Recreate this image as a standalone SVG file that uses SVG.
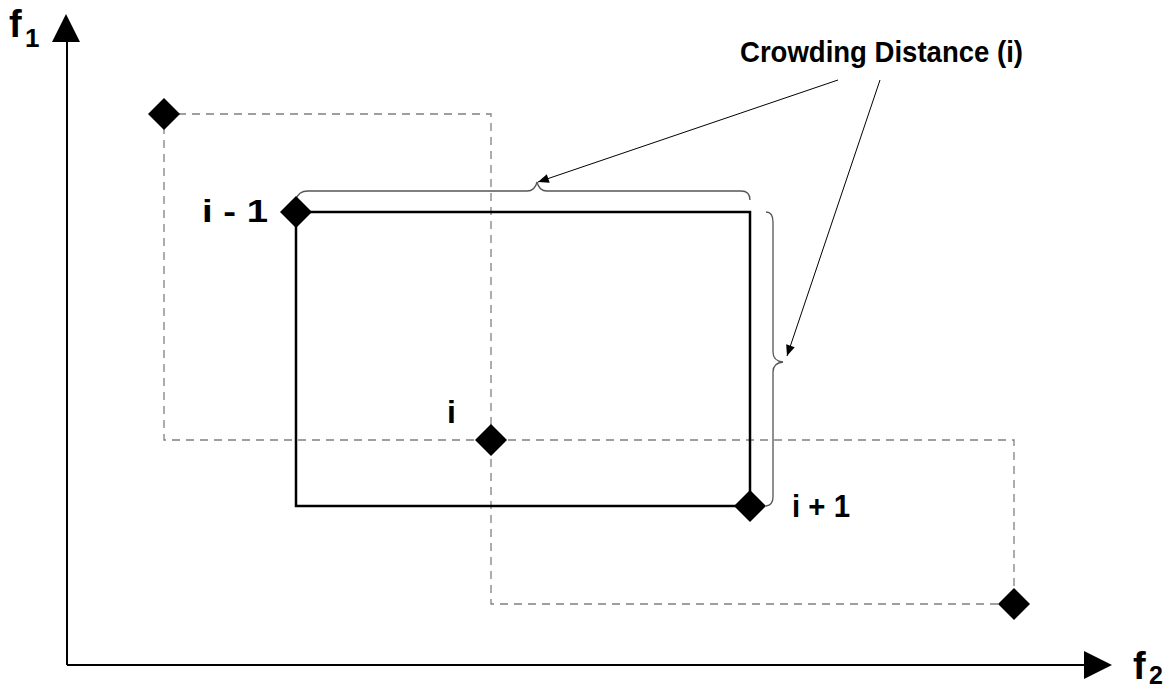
<svg xmlns="http://www.w3.org/2000/svg" width="1172" height="691" viewBox="0 0 1172 691">
<defs>
<marker id="ah" viewBox="0 0 12 10" refX="12" refY="5" markerWidth="13" markerHeight="9" markerUnits="userSpaceOnUse" orient="auto"><path d="M0,0 L12,5 L0,10 z" fill="#000"/></marker>
</defs>
<style>
.lbl{font-family:"Liberation Sans",Arial,sans-serif;font-weight:bold;fill:#000}
.dash{fill:none;stroke:#808080;stroke-width:1.3;stroke-dasharray:8,6}
.dia{fill:#000}
.brace{fill:none;stroke:#555;stroke-width:1.3}
</style>
<rect width="1172" height="691" fill="#fff"/>
<g id="axes">
<line x1="67" y1="40" x2="67" y2="665" stroke="#000" stroke-width="2"/>
<polygon points="66,14 52,42 80,42" fill="#000"/>
<line x1="67" y1="665" x2="1086" y2="665" stroke="#000" stroke-width="2"/>
<polygon points="1112,665 1084,651 1084,679" fill="#000"/>
<text class="lbl" x="9" y="37" font-size="38">f<tspan x="25" y="47" font-size="26">1</tspan></text>
<text class="lbl" x="1133" y="679" font-size="38">f<tspan x="1149" y="684" font-size="25">2</tspan></text>
</g>
<g id="connectors">
<path class="dash" d="M164,114 H491 V604 H1014 V440 H164 V114"/>
<rect x="296" y="212" width="454" height="294" fill="none" stroke="#000" stroke-width="2.5"/>
<path class="brace" d="M296,200 Q298,191 308,191 H527 Q535,191 537,182 Q539,191 547,191 H741 Q750,191 750,200"/>
<path class="brace" d="M766,212 Q773,212 773,222 V352 Q773,361 783,362 Q773,363 773,372 V497 Q773,505 766,506"/>
<line x1="838" y1="80" x2="538" y2="182" stroke="#000" stroke-width="1" marker-end="url(#ah)"/>
<line x1="880" y1="80" x2="787" y2="356" stroke="#000" stroke-width="1" marker-end="url(#ah)"/>
</g>
<g id="n1"><polygon class="dia" points="164,98 180,114 164,130 148,114"/></g>
<g id="n2"><polygon class="dia" points="296,196 312,212 296,228 280,212"/><text class="lbl" x="202" y="222" font-size="32" textLength="66" lengthAdjust="spacingAndGlyphs">i - 1</text></g>
<g id="n3"><polygon class="dia" points="491,424 507,440 491,456 475,440"/><text class="lbl" x="447" y="423" font-size="32">i</text></g>
<g id="n4"><polygon class="dia" points="750,490 766,506 750,522 734,506"/><text class="lbl" x="792" y="517" font-size="32" textLength="58" lengthAdjust="spacingAndGlyphs">i + 1</text></g>
<g id="n5"><polygon class="dia" points="1014,588 1030,604 1014,620 998,604"/></g>
<g id="title"><text class="lbl" x="740" y="62" font-size="30" textLength="283" lengthAdjust="spacingAndGlyphs">Crowding Distance (i)</text></g>
</svg>
